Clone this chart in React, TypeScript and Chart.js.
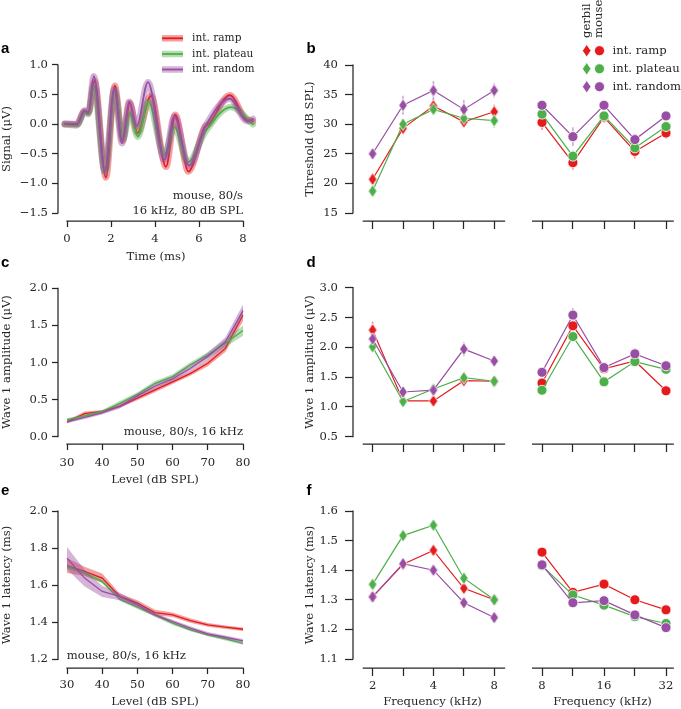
import React, { useEffect, useRef } from 'react';
import { Chart, registerables } from 'chart.js';
Chart.register(...registerables);

const CW = 681;
const CH = 709;
const RED = '#e41a1c';
const GREEN = '#4daf4a';
const PURPLE = '#984ea3';
const INK = '#262626';
const SERIF = "'DejaVu Serif', serif";
const FS = 11.6;
const LEG_A_FS = 10.6;

// ---- Panel a: waveform (time ms / signal uV)
const wfRampT = [-0.1, 0.45, 0.8, 0.97, 1.25, 1.77, 2.17, 2.53, 2.85, 3.2, 3.82, 4.5, 4.92, 5.52, 6.25, 6.45, 7.4, 8.1, 8.45];
const wfRampV = [0.0, 0.0, 0.22, 0.19, 0.73, -0.9, 0.65, -0.28, 0.36, -0.15, 0.48, -0.72, 0.16, -0.8, -0.05, 0.0, 0.49, 0.1, 0.05];
const wfPlateauT = [-0.1, 0.45, 0.8, 0.97, 1.22, 1.72, 2.17, 2.55, 2.85, 3.22, 3.7, 4.42, 4.88, 5.5, 6.3, 7.45, 8.45];
const wfPlateauV = [0.0, -0.02, 0.2, 0.17, 0.65, -0.8, 0.55, -0.25, 0.19, -0.21, 0.38, -0.52, -0.05, -0.64, -0.12, 0.29, 0.0];
const wfRandomT = [-0.1, 0.45, 0.8, 0.97, 1.22, 1.72, 2.15, 2.5, 2.83, 3.17, 3.68, 4.43, 4.88, 5.55, 6.3, 7.4, 8.2, 8.45];
const wfRandomV = [0.01, 0.0, 0.23, 0.2, 0.81, -0.8, 0.6, -0.32, 0.38, -0.03, 0.71, -0.6, 0.13, -0.7, -0.03, 0.43, 0.05, 0.09];
const timeTicks = [0, 2, 4, 6, 8];
const signalTicks = [-1.5, -1.0, -0.5, 0.0, 0.5, 1.0];

// ---- Panels b, d, f: frequencies
const gerbilFreqs = [2, 2.83, 4, 5.66, 8];
const mouseFreqs = [8, 11.3, 16, 22.6, 32];
const gerbilFreqLabels = [2, 4, 8];
const mouseFreqLabels = [8, 16, 32];

// b: thresholds (dB SPL) and error bars
const thrGerbilRamp = [20.7, 29.3, 33.1, 30.4, 32.1];
const thrGerbilPlateau = [18.7, 30.0, 32.5, 31.0, 30.6];
const thrGerbilRandom = [25.0, 33.2, 35.7, 32.5, 35.7];
const thrMouseRamp = [30.3, 23.5, 31.2, 25.4, 28.5];
const thrMousePlateau = [31.7, 24.6, 31.4, 26.0, 29.6];
const thrMouseRandom = [33.2, 27.9, 33.2, 27.4, 31.4];
const thrErrGerbilRamp = [1.0, 1.0, 1.2, 1.0, 1.2];
const thrErrGerbilPlateau = [1.0, 0.8, 0.8, 1.2, 1.2];
const thrErrGerbilRandom = [0.8, 1.6, 1.6, 1.6, 1.2];
const thrErrMouseRamp = [1.3, 1.2, 1.0, 1.2, 1.0];
const thrErrMousePlateau = [0.8, 1.0, 0.8, 1.0, 0.8];
const thrErrMouseRandom = [0.8, 1.6, 0.8, 1.0, 0.8];
const thresholdTicks = [15, 20, 25, 30, 35, 40];

// d: wave 1 amplitude (uV) and error bars
const ampGerbilRamp = [2.29, 1.1, 1.1, 1.44, 1.43];
const ampGerbilPlateau = [2.01, 1.09, 1.3, 1.49, 1.43];
const ampGerbilRandom = [2.14, 1.25, 1.28, 1.97, 1.77];
const ampMouseRamp = [1.4, 2.36, 1.64, 1.77, 1.27];
const ampMousePlateau = [1.28, 2.18, 1.42, 1.76, 1.63];
const ampMouseRandom = [1.58, 2.54, 1.66, 1.89, 1.69];
const ampErrGerbilRamp = [0.14, 0.05, 0.05, 0.05, 0.05];
const ampErrGerbilPlateau = [0.05, 0.04, 0.05, 0.05, 0.05];
const ampErrGerbilRandom = [0.08, 0.05, 0.05, 0.12, 0.08];
const ampErrMouseRamp = [0.05, 0.08, 0.05, 0.05, 0.05];
const ampErrMousePlateau = [0.05, 0.05, 0.04, 0.04, 0.05];
const ampErrMouseRandom = [0.06, 0.12, 0.05, 0.09, 0.08];
const ampFreqTicks = [0.5, 1.0, 1.5, 2.0, 2.5, 3.0];

// f: wave 1 latency (ms)
const latGerbilRamp = [1.31, 1.42, 1.467, 1.339, 1.3];
const latGerbilPlateau = [1.352, 1.517, 1.552, 1.373, 1.3];
const latGerbilRandom = [1.31, 1.422, 1.4, 1.29, 1.24];
const latMouseRamp = [1.461, 1.325, 1.353, 1.3, 1.266];
const latMousePlateau = [1.415, 1.316, 1.282, 1.243, 1.22];
const latMouseRandom = [1.418, 1.29, 1.297, 1.249, 1.206];
const latFreqTicks = [1.1, 1.2, 1.3, 1.4, 1.5, 1.6];

// ---- Panels c, e: level functions (mouse, 16 kHz)
const levels = [30, 35, 40, 45, 50, 55, 60, 65, 70, 75, 80];
const levelTicks = [30, 40, 50, 60, 70, 80];
const ampRamp = [0.2, 0.31, 0.34, 0.41, 0.52, 0.63, 0.74, 0.85, 0.99, 1.19, 1.64];
const ampPlateau = [0.23, 0.28, 0.34, 0.45, 0.57, 0.72, 0.81, 0.97, 1.1, 1.26, 1.43];
const ampRandom = [0.2, 0.26, 0.32, 0.41, 0.55, 0.68, 0.78, 0.92, 1.08, 1.28, 1.7];
const ampSemRamp = [0.02, 0.03, 0.02, 0.02, 0.03, 0.03, 0.03, 0.03, 0.04, 0.05, 0.08];
const ampSemPlateau = [0.02, 0.02, 0.02, 0.03, 0.03, 0.03, 0.03, 0.03, 0.04, 0.05, 0.07];
const ampSemRandom = [0.02, 0.02, 0.02, 0.03, 0.03, 0.03, 0.03, 0.04, 0.05, 0.06, 0.08];
const ampLevelTicks = [0.0, 0.5, 1.0, 1.5, 2.0];

const latRamp = [1.706, 1.674, 1.638, 1.539, 1.503, 1.452, 1.44, 1.409, 1.386, 1.373, 1.362];
const latPlateau = [1.7, 1.665, 1.62, 1.524, 1.481, 1.44, 1.395, 1.359, 1.332, 1.31, 1.286];
const latRandom = [1.746, 1.638, 1.566, 1.539, 1.494, 1.44, 1.404, 1.368, 1.337, 1.319, 1.3];
const latSemRamp = [0.04, 0.025, 0.025, 0.015, 0.015, 0.015, 0.012, 0.012, 0.01, 0.01, 0.01];
const latSemPlateau = [0.01, 0.01, 0.01, 0.01, 0.01, 0.01, 0.01, 0.008, 0.008, 0.008, 0.008];
const latSemRandom = [0.06, 0.045, 0.03, 0.02, 0.015, 0.01, 0.01, 0.01, 0.01, 0.01, 0.01];
const latLevelTicks = [1.2, 1.4, 1.6, 1.8, 2.0];

const seriesNames = ['int. ramp', 'int. plateau', 'int. random'];
const seriesColors = [RED, GREEN, PURPLE];

function rgba(hex: string, a: number) {
  const n = parseInt(hex.slice(1), 16);
  return `rgba(${(n >> 16) & 255},${(n >> 8) & 255},${n & 255},${a})`;
}

const DW = 8.6;
const DH = 12.6;
const CR = 5;

function drawDiamond(ctx: CanvasRenderingContext2D, cx: number, cy: number, color: string) {
  ctx.beginPath();
  ctx.moveTo(cx, cy - DH / 2);
  ctx.lineTo(cx + DW / 2, cy);
  ctx.lineTo(cx, cy + DH / 2);
  ctx.lineTo(cx - DW / 2, cy);
  ctx.closePath();
  ctx.fillStyle = color;
  ctx.fill();
  ctx.strokeStyle = '#ffffff';
  ctx.lineWidth = 0.8;
  ctx.stroke();
}

function diamondCanvas(color: string) {
  const c = document.createElement('canvas');
  c.width = 12;
  c.height = 16;
  const ctx = c.getContext('2d')!;
  drawDiamond(ctx, 6, 8, color);
  return c;
}

function drawCircle(ctx: CanvasRenderingContext2D, cx: number, cy: number, color: string) {
  ctx.beginPath();
  ctx.arc(cx, cy, CR, 0, Math.PI * 2);
  ctx.fillStyle = color;
  ctx.fill();
  ctx.strokeStyle = '#ffffff';
  ctx.lineWidth = 0.8;
  ctx.stroke();
}

function txt(ctx: CanvasRenderingContext2D, s: string, x: number, y: number, align: CanvasTextAlign = 'left', size: number = FS) {
  ctx.font = `${size}px ${SERIF}`;
  ctx.fillStyle = INK;
  ctx.textAlign = align;
  ctx.textBaseline = 'middle';
  ctx.fillText(s, x, y);
}

function letter(ctx: CanvasRenderingContext2D, s: string, x: number, y: number) {
  ctx.font = "bold 15px 'Liberation Sans', Arial, sans-serif";
  ctx.fillStyle = '#000';
  ctx.textAlign = 'left';
  ctx.textBaseline = 'alphabetic';
  ctx.fillText(s, x, y);
}

type Area = { l: number; t: number; r: number; b: number };
type AxisSpec = {
  type?: 'linear' | 'logarithmic';
  cal: [number, number, number, number];
  ticks: number[];
  label: (v: number) => string;
  title?: string;
  tl: number;
  pad: number;
  spine?: [number, number];
};
type Spec = {
  area: Area;
  yLeft: number | null;
  xBottom: number;
  x: AxisSpec;
  y: AxisSpec;
  datasets: any[];
  overlay?: (ctx: CanvasRenderingContext2D) => void;
};

function axisRange(type: string, cal: number[], pa: number, pb: number) {
  const log = type === 'logarithmic';
  const f = (v: number) => (log ? Math.log(v) : v);
  const g = (v: number) => (log ? Math.exp(v) : v);
  const [v1, p1, v2, p2] = cal;
  const k = (f(v2) - f(v1)) / (p2 - p1);
  return [g(f(v1) + (pa - p1) * k), g(f(v1) + (pb - p1) * k)];
}

function buildConfig(spec: Spec): any {
  const { area } = spec;
  const xType = spec.x.type || 'linear';
  const [xmin, xmax] = axisRange(xType, spec.x.cal, area.l, area.r);
  const [ymin, ymax] = axisRange('linear', spec.y.cal, area.b, area.t);
  const hasY = spec.yLeft !== null;
  const xBoxH = spec.xBottom - area.b;
  const yBoxW = hasY ? area.l - (spec.yLeft as number) : 0;
  const font = { family: SERIF, size: FS, lineHeight: 1.2 };
  const zeroPad = (s: any) => {
    s.paddingLeft = 0;
    s.paddingRight = 0;
    s.paddingTop = 0;
    s.paddingBottom = 0;
  };
  const spinePlugin = {
    id: 'spines',
    beforeDatasetsDraw(chart: any) {
      const { ctx, chartArea, scales } = chart;
      ctx.save();
      ctx.strokeStyle = INK;
      ctx.lineWidth = 1.25;
      ctx.lineCap = 'butt';
      if (spec.x.spine) {
        const a = scales.x.getPixelForValue(spec.x.spine[0]);
        const b = scales.x.getPixelForValue(spec.x.spine[1]);
        ctx.beginPath();
        ctx.moveTo(a - 0.6, chartArea.bottom);
        ctx.lineTo(b + 0.6, chartArea.bottom);
        ctx.stroke();
      }
      if (hasY && spec.y.spine) {
        const a = scales.y.getPixelForValue(spec.y.spine[0]);
        const b = scales.y.getPixelForValue(spec.y.spine[1]);
        ctx.beginPath();
        ctx.moveTo(chartArea.left, a + 0.6);
        ctx.lineTo(chartArea.left, b - 0.6);
        ctx.stroke();
      }
      // error bars (drawn under the markers)
      chart.data.datasets.forEach((ds: any) => {
        if (!ds.errors) return;
        ctx.strokeStyle = rgba(ds.borderColor, 0.5);
        ctx.lineWidth = 1.5;
        ds.data.forEach((p: any, j: number) => {
          const e = ds.errors[j];
          const x = scales.x.getPixelForValue(p.x);
          ctx.beginPath();
          ctx.moveTo(x, scales.y.getPixelForValue(p.y - e));
          ctx.lineTo(x, scales.y.getPixelForValue(p.y + e));
          ctx.stroke();
        });
      });
      ctx.restore();
    },
    afterDraw(chart: any) {
      if (spec.overlay) {
        const ctx = chart.ctx;
        ctx.save();
        spec.overlay(ctx);
        ctx.restore();
      }
    },
  };
  return {
    type: 'line',
    data: { datasets: spec.datasets },
    options: {
      responsive: false,
      maintainAspectRatio: false,
      devicePixelRatio: 1,
      animation: false,
      events: [],
      layout: {
        autoPadding: false,
        padding: {
          left: hasY ? spec.yLeft : area.l,
          top: area.t,
          right: CW - area.r,
          bottom: CH - spec.xBottom,
        },
      },
      plugins: { legend: { display: false }, tooltip: { enabled: false } },
      scales: {
        x: {
          type: xType,
          min: xmin,
          max: xmax,
          afterBuildTicks: (s: any) => {
            s.ticks = spec.x.ticks.map((v) => ({ value: v }));
          },
          afterFit: (s: any) => {
            s.height = xBoxH;
            zeroPad(s);
          },
          border: { display: false },
          grid: {
            drawOnChartArea: false,
            drawTicks: true,
            tickLength: spec.x.tl,
            tickColor: INK,
            tickWidth: 1.25,
            color: INK,
          },
          ticks: {
            autoSkip: false,
            maxRotation: 0,
            minRotation: 0,
            padding: spec.x.pad,
            color: INK,
            font,
            callback: (v: number) => spec.x.label(v),
          },
          title: spec.x.title
            ? { display: true, text: spec.x.title, color: INK, font, padding: 0 }
            : { display: false },
        },
        y: {
          type: 'linear',
          display: hasY,
          min: ymin,
          max: ymax,
          afterBuildTicks: (s: any) => {
            s.ticks = spec.y.ticks.map((v) => ({ value: v }));
          },
          afterFit: (s: any) => {
            s.width = yBoxW;
            zeroPad(s);
          },
          border: { display: false },
          grid: {
            drawOnChartArea: false,
            drawTicks: true,
            tickLength: spec.y.tl,
            tickColor: INK,
            tickWidth: 1.25,
            color: INK,
          },
          ticks: {
            padding: spec.y.pad,
            color: INK,
            font,
            callback: (v: number) => spec.y.label(v),
          },
          title: spec.y.title
            ? { display: true, text: spec.y.title, color: INK, font, padding: 0 }
            : { display: false },
        },
      },
    },
    plugins: [spinePlugin],
  };
}

const fmt1 = (v: number) => v.toFixed(1).replace('-', '\u2212');
const fmt0 = (v: number) => String(v);

function pts(xs: number[], ys: number[]) {
  return xs.map((x, i) => ({ x, y: ys[i] }));
}

function waveformDatasets() {
  const series = [
    [wfRampT, wfRampV],
    [wfPlateauT, wfPlateauV],
    [wfRandomT, wfRandomV],
  ];
  const out: any[] = [];
  series.forEach(([t, v], i) => {
    const base = {
      data: pts(t, v),
      pointRadius: 0,
      cubicInterpolationMode: 'monotone',
      borderJoinStyle: 'round',
      borderCapStyle: 'round',
      clip: false,
      fill: false,
    };
    out.push({ ...base, borderColor: rgba(seriesColors[i], 0.42), borderWidth: 6.5, order: 20 - i * 2 });
    out.push({ ...base, borderColor: seriesColors[i], borderWidth: 1.8, order: 19 - i * 2 });
  });
  return out;
}

function bandDatasets(means: number[][], sems: number[][]) {
  const out: any[] = [];
  means.forEach((m, i) => {
    const s = sems[i];
    const c = seriesColors[i];
    const common = { pointRadius: 0, clip: false, tension: 0 };
    out.push({
      ...common,
      data: pts(levels, m.map((v, j) => v + s[j])),
      borderWidth: 0,
      backgroundColor: rgba(c, 0.42),
      fill: '+1',
      order: 30 - i * 3,
    });
    out.push({
      ...common,
      data: pts(levels, m.map((v, j) => v - s[j])),
      borderWidth: 0,
      fill: false,
      order: 29 - i * 3,
    });
    out.push({ ...common, data: pts(levels, m), borderColor: c, borderWidth: 1.3, fill: false, order: 28 - i * 3 });
  });
  return out;
}

function markerDatasets(freqs: number[], groups: number[][], diamond: boolean, errors?: number[][]) {
  return groups.map((vals, i) => ({
    data: pts(freqs, vals),
    errors: errors ? errors[i] : undefined,
    borderColor: seriesColors[i],
    borderWidth: 1.2,
    pointStyle: diamond ? diamondCanvas(seriesColors[i]) : 'circle',
    pointRadius: CR,
    pointBackgroundColor: seriesColors[i],
    pointBorderColor: '#ffffff',
    pointBorderWidth: 0.8,
    tension: 0,
    clip: false,
    fill: false,
    order: 3 - i,
  }));
}

const LEFT_Y = 0;
const RIGHT_Y = 303;

function makeSpecs(): Spec[] {
  const leftX = (pad: number) => ({ tl: 6, pad });
  const gerbilX = (labels: boolean): AxisSpec => ({
    type: 'logarithmic',
    cal: [2, 371, 8, 494],
    ticks: gerbilFreqs,
    label: (v) => (labels && gerbilFreqLabels.includes(v) ? String(v) : ''),
    title: labels ? 'Frequency (kHz)' : undefined,
    tl: 8,
    pad: 3,
    spine: [1.8, 9.0],
  });
  const mouseX = (labels: boolean): AxisSpec => ({
    type: 'logarithmic',
    cal: [8, 542, 32, 666],
    ticks: mouseFreqs,
    label: (v) => (labels && mouseFreqLabels.includes(v) ? String(v) : ''),
    title: labels ? 'Frequency (kHz)' : undefined,
    tl: 8,
    pad: 3,
    spine: [7.2, 34.7],
  });
  const rightY = (cal: [number, number, number, number], ticks: number[], label: (v: number) => string, title?: string): AxisSpec => ({
    cal,
    ticks,
    label,
    title,
    tl: 8,
    pad: 7,
    spine: [ticks[0], ticks[ticks.length - 1]],
  });

  const areaRowB = (l: number, r: number): Area => ({ l, t: 57, r, b: 221 });
  const areaRowD = (l: number, r: number): Area => ({ l, t: 280, r, b: 444 });
  const areaRowF = (l: number, r: number): Area => ({ l, t: 502, r, b: 668 });

  const specs: Spec[] = [];

  // a
  specs.push({
    area: { l: 58, t: 57, r: 254, b: 221 },
    yLeft: LEFT_Y,
    xBottom: 264,
    x: { cal: [0, 67, 8, 243], ticks: timeTicks, label: fmt0, title: 'Time (ms)', ...leftX(5), spine: [0, 8] },
    y: { cal: [1.0, 65, -1.5, 213], ticks: signalTicks, label: fmt1, title: 'Signal (\u03bcV)', tl: 6, pad: 4, spine: [-1.5, 1.0] },
    datasets: waveformDatasets(),
    overlay: (ctx) => {
      letter(ctx, 'a', 1, 53.3);
      const ys = [38.3, 54, 69.5];
      ys.forEach((y, i) => {
        ctx.lineCap = 'butt';
        ctx.strokeStyle = rgba(seriesColors[i], 0.42);
        ctx.lineWidth = 6.5;
        ctx.beginPath();
        ctx.moveTo(162, y);
        ctx.lineTo(183, y);
        ctx.stroke();
        ctx.strokeStyle = seriesColors[i];
        ctx.lineWidth = 1.8;
        ctx.beginPath();
        ctx.moveTo(162, y);
        ctx.lineTo(183, y);
        ctx.stroke();
        txt(ctx, seriesNames[i], 192, y, 'left', LEG_A_FS);
      });
      txt(ctx, 'mouse, 80/s', 243, 195.7, 'right');
      txt(ctx, '16 kHz, 80 dB SPL', 243, 210.5, 'right');
    },
  });

  // b left
  specs.push({
    area: areaRowB(353, 512),
    yLeft: RIGHT_Y,
    xBottom: 231,
    x: gerbilX(false),
    y: rightY([40, 65, 15, 213], thresholdTicks, fmt0, 'Threshold (dB SPL)'),
    datasets: markerDatasets(gerbilFreqs, [thrGerbilRamp, thrGerbilPlateau, thrGerbilRandom], true, [thrErrGerbilRamp, thrErrGerbilPlateau, thrErrGerbilRandom]),
    overlay: (ctx) => letter(ctx, 'b', 306.5, 53.3),
  });
  // b right
  specs.push({
    area: areaRowB(530, 675),
    yLeft: null,
    xBottom: 231,
    x: mouseX(false),
    y: rightY([40, 65, 15, 213], thresholdTicks, fmt0),
    datasets: markerDatasets(mouseFreqs, [thrMouseRamp, thrMousePlateau, thrMouseRandom], false, [thrErrMouseRamp, thrErrMousePlateau, thrErrMouseRandom]),
    overlay: (ctx) => {
      const head = [
        ['gerbil', 586.7, 38],
        ['mouse', 598.5, 38],
      ] as const;
      head.forEach(([s, x, y]) => {
        ctx.save();
        ctx.translate(x, y);
        ctx.rotate(-Math.PI / 2);
        txt(ctx, s, 0, 0, 'left');
        ctx.restore();
      });
      const ys = [50.7, 68.8, 86.7];
      ys.forEach((y, i) => {
        drawDiamond(ctx, 586.7, y, seriesColors[i]);
        drawCircle(ctx, 599.5, y, seriesColors[i]);
        txt(ctx, seriesNames[i], 612.5, y);
      });
    },
  });

  // c
  specs.push({
    area: { l: 58, t: 280, r: 252, b: 444 },
    yLeft: LEFT_Y,
    xBottom: 487,
    x: { cal: [30, 67, 80, 243], ticks: levelTicks, label: fmt0, title: 'Level (dB SPL)', ...leftX(6), spine: [30, 80] },
    y: { cal: [2.0, 288.3, 0.0, 436.7], ticks: ampLevelTicks, label: fmt1, title: 'Wave 1 amplitude (\u03bcV)', tl: 6, pad: 4, spine: [0, 2] },
    datasets: bandDatasets([ampRamp, ampPlateau, ampRandom], [ampSemRamp, ampSemPlateau, ampSemRandom]),
    overlay: (ctx) => {
      letter(ctx, 'c', 1, 266.7);
      txt(ctx, 'mouse, 80/s, 16 kHz', 243, 431.7, 'right');
    },
  });
  // d left
  specs.push({
    area: areaRowD(353, 512),
    yLeft: RIGHT_Y,
    xBottom: 454,
    x: gerbilX(false),
    y: rightY([3.0, 287.7, 0.5, 436.7], ampFreqTicks, fmt1, 'Wave 1 amplitude (\u03bcV)'),
    datasets: markerDatasets(gerbilFreqs, [ampGerbilRamp, ampGerbilPlateau, ampGerbilRandom], true, [ampErrGerbilRamp, ampErrGerbilPlateau, ampErrGerbilRandom]),
    overlay: (ctx) => letter(ctx, 'd', 306.5, 266.7),
  });
  // d right
  specs.push({
    area: areaRowD(530, 675),
    yLeft: null,
    xBottom: 454,
    x: mouseX(false),
    y: rightY([3.0, 287.7, 0.5, 436.7], ampFreqTicks, fmt1),
    datasets: markerDatasets(mouseFreqs, [ampMouseRamp, ampMousePlateau, ampMouseRandom], false, [ampErrMouseRamp, ampErrMousePlateau, ampErrMouseRandom]),
  });

  // e
  specs.push({
    area: { l: 58, t: 502, r: 252, b: 668 },
    yLeft: LEFT_Y,
    xBottom: 709,
    x: { cal: [30, 67, 80, 243], ticks: levelTicks, label: fmt0, title: 'Level (dB SPL)', ...leftX(4), spine: [30, 80] },
    y: { cal: [2.0, 511, 1.2, 659.3], ticks: latLevelTicks, label: fmt1, title: 'Wave 1 latency (ms)', tl: 6, pad: 4, spine: [1.2, 2.0] },
    datasets: bandDatasets([latRamp, latPlateau, latRandom], [latSemRamp, latSemPlateau, latSemRandom]),
    overlay: (ctx) => {
      letter(ctx, 'e', 1, 495);
      txt(ctx, 'mouse, 80/s, 16 kHz', 66.7, 655.7, 'left');
    },
  });
  // f left
  specs.push({
    area: areaRowF(353, 512),
    yLeft: RIGHT_Y,
    xBottom: 709,
    x: gerbilX(true),
    y: rightY([1.6, 511, 1.1, 659], latFreqTicks, fmt1, 'Wave 1 latency (ms)'),
    datasets: markerDatasets(gerbilFreqs, [latGerbilRamp, latGerbilPlateau, latGerbilRandom], true),
    overlay: (ctx) => letter(ctx, 'f', 306.5, 495),
  });
  // f right
  specs.push({
    area: areaRowF(530, 675),
    yLeft: null,
    xBottom: 709,
    x: mouseX(true),
    y: rightY([1.6, 511, 1.1, 659], latFreqTicks, fmt1),
    datasets: markerDatasets(mouseFreqs, [latMouseRamp, latMousePlateau, latMouseRandom], false),
  });

  return specs;
}

const N_CHARTS = 9;

export default function App() {
  const refs = useRef<(HTMLCanvasElement | null)[]>([]);
  useEffect(() => {
    const specs = makeSpecs();
    const charts = specs.map((s, i) => new Chart(refs.current[i] as HTMLCanvasElement, buildConfig(s)));
    return () => charts.forEach((c) => c.destroy());
  }, []);
  return (
    <div style={{ position: 'absolute', left: 0, top: 0, width: CW, height: CH, background: '#ffffff', overflow: 'hidden' }}>
      {Array.from({ length: N_CHARTS }).map((_, i) => (
        <canvas
          key={i}
          ref={(el) => {
            refs.current[i] = el;
          }}
          width={CW}
          height={CH}
          style={{ position: 'absolute', left: 0, top: 0 }}
        />
      ))}
    </div>
  );
}
